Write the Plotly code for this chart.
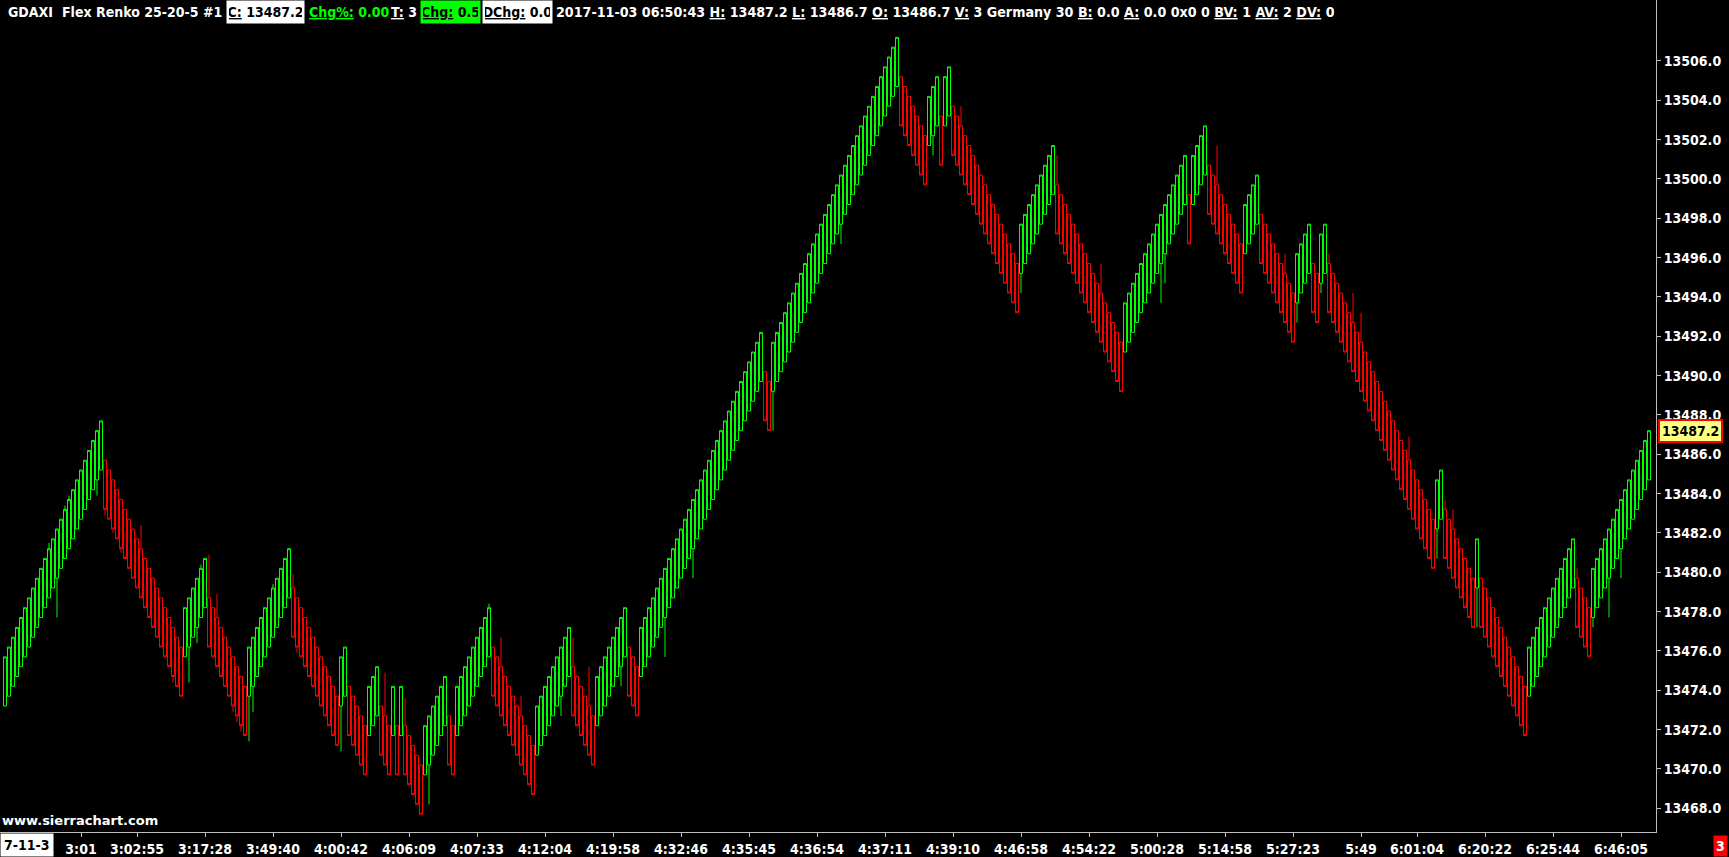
import plotly.graph_objects as go

# ---- data ----
closes = [
    # up 0-24
    13475.7, 13476.2, 13476.7, 13477.2, 13477.7, 13478.2, 13478.7, 13479.2, 13479.7, 13480.2,
    13480.7, 13481.2, 13481.7, 13482.2, 13482.7, 13483.2, 13483.7, 13484.2, 13484.7, 13485.2,
    13485.7, 13486.2, 13486.7, 13487.2, 13487.7,
    # down 25-44
    13483.2, 13482.7, 13482.2, 13481.7, 13481.2, 13480.7, 13480.2, 13479.7, 13479.2, 13478.7,
    13478.2, 13477.7, 13477.2, 13476.7, 13476.2, 13475.7, 13475.2, 13474.7, 13474.2, 13473.7,
    # up 45-50
    13478.2, 13478.7, 13479.2, 13479.7, 13480.2, 13480.7,
    # down 51-60
    13476.2, 13475.7, 13475.2, 13474.7, 13474.2, 13473.7, 13473.2, 13472.7, 13472.2, 13471.7,
    # up 61-71
    13476.2, 13476.7, 13477.2, 13477.7, 13478.2, 13478.7, 13479.2, 13479.7, 13480.2, 13480.7, 13481.2,
    # down 72-83
    13476.7, 13476.2, 13475.7, 13475.2, 13474.7, 13474.2, 13473.7, 13473.2, 13472.7, 13472.2,
    13471.7, 13471.2,
    # up 84-85
    13475.7, 13476.2,
    # down 86-90
    13471.7, 13471.2, 13470.7, 13470.2, 13469.7,
    # up 91-93
    13474.2, 13474.7, 13475.2,
    # down 94-96
    13470.7, 13470.2, 13469.7,
    # 97-99
    13474.2, 13469.7, 13474.2,
    # down 100-104
    13469.7, 13469.2, 13468.7, 13468.2, 13467.7,
    # up 105-110
    13472.2, 13472.7, 13473.2, 13473.7, 13474.2, 13474.7,
    # down 111-112
    13470.2, 13469.7,
    # up 113-121
    13474.2, 13474.7, 13475.2, 13475.7, 13476.2, 13476.7, 13477.2, 13477.7, 13478.2,
    # down 122-132
    13473.7, 13473.2, 13472.7, 13472.2, 13471.7, 13471.2, 13470.7, 13470.2, 13469.7, 13469.2, 13468.7,
    # up 133-141
    13473.2, 13473.7, 13474.2, 13474.7, 13475.2, 13475.7, 13476.2, 13476.7, 13477.2,
    # down 142-147
    13472.7, 13472.2, 13471.7, 13471.2, 13470.7, 13470.2,
    # up 148-155
    13474.7, 13475.2, 13475.7, 13476.2, 13476.7, 13477.2, 13477.7, 13478.2,
    # down 156-158
    13473.7, 13473.2, 13472.7,
    # up 159-189
    13477.2, 13477.7, 13478.2, 13478.7, 13479.2, 13479.7, 13480.2, 13480.7, 13481.2, 13481.7,
    13482.2, 13482.7, 13483.2, 13483.7, 13484.2, 13484.7, 13485.2, 13485.7, 13486.2, 13486.7,
    13487.2, 13487.7, 13488.2, 13488.7, 13489.2, 13489.7, 13490.2, 13490.7, 13491.2, 13491.7, 13492.2,
    # down 190-191
    13487.7, 13487.2,
    # up 192-223
    13491.7, 13492.2, 13492.7, 13493.2, 13493.7, 13494.2, 13494.7, 13495.2, 13495.7, 13496.2,
    13496.7, 13497.2, 13497.7, 13498.2, 13498.7, 13499.2, 13499.7, 13500.2, 13500.7, 13501.2,
    13501.7, 13502.2, 13502.7, 13503.2, 13503.7, 13504.2, 13504.7, 13505.2, 13505.7, 13506.2,
    13506.7, 13507.2,
    # down 224-230
    13502.7, 13502.2, 13501.7, 13501.2, 13500.7, 13500.2, 13499.7,
    # up 231-233
    13504.2, 13504.7, 13505.2,
    # down 234
    13500.7,
    # up 235-236
    13505.2, 13505.7,
    # down 237-253
    13501.2, 13500.7, 13500.2, 13499.7, 13499.2, 13498.7, 13498.2, 13497.7, 13497.2, 13496.7,
    13496.2, 13495.7, 13495.2, 13494.7, 13494.2, 13493.7, 13493.2,
    # up 254-262
    13497.7, 13498.2, 13498.7, 13499.2, 13499.7, 13500.2, 13500.7, 13501.2, 13501.7,
    # down 263-279
    13497.2, 13496.7, 13496.2, 13495.7, 13495.2, 13494.7, 13494.2, 13493.7, 13493.2, 13492.7,
    13492.2, 13491.7, 13491.2, 13490.7, 13490.2, 13489.7, 13489.2,
    # up 280-295
    13493.7, 13494.2, 13494.7, 13495.2, 13495.7, 13496.2, 13496.7, 13497.2, 13497.7, 13498.2,
    13498.7, 13499.2, 13499.7, 13500.2, 13500.7, 13501.2,
    # down 296
    13496.7,
    # up 297-300
    13501.2, 13501.7, 13502.2, 13502.7,
    # down 301-309
    13498.2, 13497.7, 13497.2, 13496.7, 13496.2, 13495.7, 13495.2, 13494.7, 13494.2,
    # up 310-313
    13498.7, 13499.2, 13499.7, 13500.2,
    # down 314-322
    13495.7, 13495.2, 13494.7, 13494.2, 13493.7, 13493.2, 13492.7, 13492.2, 13491.7,
    # up 323-326
    13496.2, 13496.7, 13497.2, 13497.7,
    # down 327-328
    13493.2, 13492.7,
    # up 329-330
    13497.2, 13497.7,
    # down 331-357
    13493.2, 13492.7, 13492.2, 13491.7, 13491.2, 13490.7, 13490.2, 13489.7, 13489.2, 13488.7,
    13488.2, 13487.7, 13487.2, 13486.7, 13486.2, 13485.7, 13485.2, 13484.7, 13484.2, 13483.7,
    13483.2, 13482.7, 13482.2, 13481.7, 13481.2, 13480.7, 13480.2,
    # up 358-359
    13484.7, 13485.2,
    # down 360-367
    13480.7, 13480.2, 13479.7, 13479.2, 13478.7, 13478.2, 13477.7, 13477.2,
    # up 368
    13481.7,
    # down 369-380
    13477.2, 13476.7, 13476.2, 13475.7, 13475.2, 13474.7, 13474.2, 13473.7, 13473.2, 13472.7,
    13472.2, 13471.7,
    # up 381-392
    13476.2, 13476.7, 13477.2, 13477.7, 13478.2, 13478.7, 13479.2, 13479.7, 13480.2, 13480.7,
    13481.2, 13481.7,
    # down 393-396
    13477.2, 13476.7, 13476.2, 13475.7,
    # up 397-411
    13480.2, 13480.7, 13481.2, 13481.7, 13482.2, 13482.7, 13483.2, 13483.7, 13484.2, 13484.7,
    13485.2, 13485.7, 13486.2, 13486.7, 13487.2,
]

box_size = 2.5  # Flex Renko bar size (25 ticks)

# wick extremes beyond the brick (bar index, price)
wick_bar = [11, 13, 15, 16, 23, 25, 27, 29, 34, 42, 46, 48, 49, 51, 53, 57, 58, 59, 61, 62,
            67, 72, 73, 84, 95, 100, 106, 121, 124, 129, 139, 142, 146, 154, 165, 172, 192,
            209, 232, 239, 254, 263, 274, 289, 290, 303, 320, 323, 329, 331, 337, 339, 351,
            358, 360, 362, 368, 393, 397, 401, 404]
wick_price = [13481.5, 13477.7, 13483.4, 13483.9, 13483.9, 13482.9, 13482.0, 13481.0, 13482.4,
              13474.4, 13474.4, 13476.4, 13480.4, 13480.9, 13478.9, 13472.9, 13472.4, 13471.9,
              13471.4, 13472.9, 13479.4, 13479.9, 13475.9, 13470.9, 13474.9, 13473.6, 13468.2,
              13478.4, 13476.7, 13473.7, 13472.7, 13476.7, 13475.2, 13474.2, 13475.7, 13479.7,
              13487.2, 13496.7, 13501.2, 13503.7, 13494.2, 13501.2, 13495.7, 13493.7, 13494.7,
              13501.7, 13496.2, 13492.7, 13494.2, 13496.2, 13494.2, 13493.2, 13486.9, 13480.7,
              13483.7, 13483.2, 13477.2, 13480.2, 13477.2, 13477.7, 13479.7]

time_tick_bar = [19, 33, 50, 67, 84, 101, 118, 135, 152, 169, 186, 203, 220, 237, 254, 271,
                 288, 305, 322, 339, 353, 370, 387, 404]
time_tick_text = ["3:01", "3:02:55", "3:17:28", "3:49:40", "4:00:42", "4:06:09", "4:07:33",
                  "4:12:04", "4:19:58", "4:32:46", "4:35:45", "4:36:54", "4:37:11", "4:39:10",
                  "4:46:58", "4:54:22", "5:00:28", "5:14:58", "5:27:23", "5:49", "6:01:04",
                  "6:20:22", "6:25:44", "6:46:05"]
price_ticks = [13468 + 2 * k for k in range(20)]
last_price = 13487.2

# ---- build OHLC ----
n = len(closes)
x = list(range(n))
opens, highs, lows = [], [], []
for i, c in enumerate(closes):
    d = 1 if (i == 0 or c > closes[i - 1]) else -1
    o = c - box_size * d
    opens.append(o)
    highs.append(max(o, c))
    lows.append(min(o, c))
for b, p in zip(wick_bar, wick_price):
    highs[b] = max(highs[b], p)
    lows[b] = min(lows[b], p)

GREEN = "#00ff00"
RED = "#ff0000"
AXIS = "#bcbcbc"
FONT = "DejaVu Sans Condensed, DejaVu Sans, sans-serif"

fig = go.Figure(go.Candlestick(
    x=x, open=opens, high=highs, low=lows, close=closes,
    increasing=dict(line=dict(color=GREEN, width=1), fillcolor="#000000"),
    decreasing=dict(line=dict(color=RED, width=1), fillcolor="#000000"),
    whiskerwidth=0, hoverinfo="skip",
))

W, H = 1729, 857
PW = 1656
fig.update_layout(
    width=W, height=H,
    margin=dict(l=0, r=W - PW, t=0, b=25, pad=0),
    paper_bgcolor="#000000", plot_bgcolor="#000000",
    showlegend=False, boxgap=0.25, boxgroupgap=0,
    font=dict(family=FONT, color="#ffffff", size=14, weight="bold"),
    xaxis=dict(
        range=[-1.25, 412.75], rangeslider=dict(visible=False),
        showgrid=False, zeroline=False,
        showline=True, linecolor=AXIS, linewidth=1,
        tickmode="array", tickvals=time_tick_bar, ticktext=time_tick_text,
        ticks="outside", ticklen=4, tickcolor=AXIS,
        tickfont=dict(family=FONT, size=14, color="#ffffff", weight="bold"),
    ),
    yaxis=dict(
        side="right", range=[13466.795, 13509.1],
        showgrid=False, zeroline=False,
        showline=True, linecolor=AXIS, linewidth=1,
        tickmode="array", tickvals=price_ticks, tickformat=".1f",
        ticks="outside", ticklen=4, tickcolor=AXIS,
        tickfont=dict(family=FONT, size=14, color="#ffffff", weight="bold"),
    ),
)

def px(v):
    return v / PW

ann = []
def hdr(left, text, color="#ffffff", bg=None, width=None, size=14):
    d = dict(xref="paper", yref="paper", x=px(left), y=1, xanchor="left", yanchor="top",
             text=text, showarrow=False, align="center",
             font=dict(family=FONT, size=size, color=color, weight="bold"),
             borderpad=2, height=18)
    if bg:
        d["bgcolor"] = bg
    if width:
        d["width"] = width
    ann.append(d)

hdr(5, "GDAXI")
hdr(59, "Flex Renko 25-20-5")
hdr(200, "#1")
hdr(226, "<u>C:</u> 13487.2", color="#000000", bg="#ffffff", width=73)
hdr(306, "<u>Chg%:</u> 0.00", color=GREEN)
hdr(388, "<u>T:</u> 3")
hdr(420, "<u>Chg:</u> 0.5", color="#000000", bg=GREEN, width=55)
hdr(482, "<u>DChg:</u> 0.0", color="#000000", bg="#ffffff", width=65)
hdr(553, "2017-11-03 06:50:43 <u>H:</u> 13487.2 <u>L:</u> 13486.7 <u>O:</u> 13486.7 "
         "<u>V:</u> 3 Germany 30 <u>B:</u> 0.0 <u>A:</u> 0.0 0x0 0 <u>BV:</u> 1 "
         "<u>AV:</u> 2 <u>DV:</u> 0", size=14.15)

# watermark
ann.append(dict(xref="paper", yref="paper", x=0, y=0, xanchor="left", yanchor="bottom",
                yshift=2, text="www.sierrachart.com", showarrow=False,
                font=dict(family="DejaVu Sans, sans-serif", size=13, color="#ffffff", weight="bold")))
# date label at left of time axis
ann.append(dict(xref="paper", yref="paper", x=0, y=0, xanchor="left", yanchor="top",
                yshift=-1, text="7-11-3", showarrow=False, bgcolor="#ffffff", borderpad=3,
                font=dict(family=FONT, size=14, color="#000000", weight="bold")))
# last price marker
ann.append(dict(xref="paper", yref="y", x=1, y=last_price, xanchor="left", yanchor="middle",
                xshift=2, text=f"{last_price:.1f}", showarrow=False, bgcolor="#ffff80",
                bordercolor="#ff0000", borderwidth=2, borderpad=2,
                font=dict(family=FONT, size=14, color="#000000", weight="bold")))
# bar counter box bottom right
ann.append(dict(xref="paper", yref="paper", x=px(1720), y=0, xanchor="center", yanchor="top",
                yshift=-3, text="3", showarrow=False, bgcolor="#ff0000", borderpad=2,
                font=dict(family=FONT, size=14, color="#ffffff", weight="bold")))

fig.update_layout(annotations=ann)
fig.write_html("out.html", config={"displayModeBar": False},
               post_script="document.body.style.margin='0';document.body.style.overflow='hidden';")
